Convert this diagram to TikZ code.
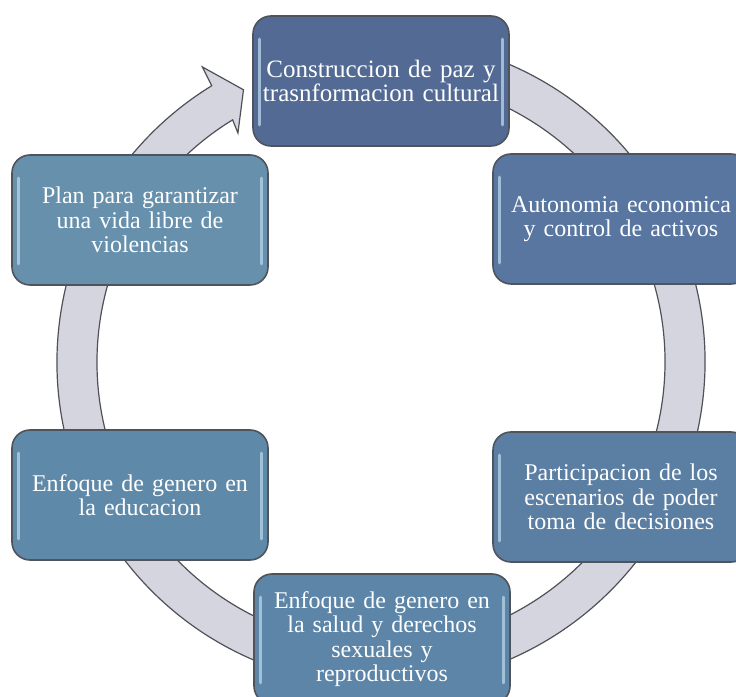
\documentclass[tikz,border=0pt]{standalone}
\usepackage{fontspec}
\setmainfont{Liberation Serif}
\usepackage{tikz}
\usetikzlibrary{positioning, calc}

\definecolor{stageA}{HTML}{536B94}
\definecolor{stageB}{HTML}{5876A0}
\definecolor{stageC}{HTML}{5B7EA3}
\definecolor{stageD}{HTML}{5D85A7}
\definecolor{stageE}{HTML}{5F89A8}
\definecolor{stageF}{HTML}{6690AC}
\definecolor{boxline}{HTML}{4E535C}
\definecolor{ringfill}{HTML}{D4D5DE}
\definecolor{ringline}{HTML}{4F5058}
\definecolor{glosscol}{HTML}{B2D0E6}

\newcommand{\stagefont}{\fontsize{24}{24.5}\selectfont}
\newcommand{\topfont}{\fontsize{25}{24.5}\selectfont}

\tikzset{
    stage/.style={draw=boxline, line width=1.6pt, rounded corners=18pt,
        minimum width=256pt, minimum height=130pt, text width=244pt,
        align=center, text=white, font=\stagefont},
    ring/.style={fill=ringfill, draw=ringline, line width=1.2pt, line join=miter},
    gloss/.style={draw=glosscol, line width=3pt, line cap=round, opacity=0.8}
}

\begin{document}
\begin{tikzpicture}[x=1pt, y=1pt]
\useasboundingbox (0,0) rectangle (736,696);

\coordinate (O) at (381,334);

% the cycle arrow
\begin{scope}[shift={(O)}]
    \path[ring] (80:324) arc[start angle=80, end angle=-238.5, radius=324pt]
        -- (121.2:345) -- (116.8:305) -- (122:270) -- (121.5:284)
        arc[start angle=-238.5, end angle=80, radius=284pt] -- cycle;
\end{scope}

% stages
\node[stage, fill=stageA, font=\topfont] (construccion) at (381,615) {Construccion de paz y\\trasnformacion cultural};
\node[stage, fill=stageB] (autonomia) at (621,477) {Autonomia economica\\y control de activos};
\node[stage, fill=stageC] (participacion) at (621,199) {Participacion de los\\escenarios de poder\\toma de decisiones};
\node[stage, fill=stageD] (salud) at (382,57) {Enfoque de genero en\\la salud y derechos\\sexuales y\\reproductivos};
\node[stage, fill=stageE] (educacion) at (140,201) {Enfoque de genero en\\la educacion};
\node[stage, fill=stageF] (violencias) at (140,476) {Plan para garantizar\\una vida libre de\\violencias};

\foreach \n in {construccion, autonomia, participacion, salud, educacion, violencias} {
    \draw[gloss] ([xshift=7pt, yshift=-24pt]\n.north west) -- ([xshift=7pt, yshift=22pt]\n.south west);
    \draw[gloss] ([xshift=-7pt, yshift=-24pt]\n.north east) -- ([xshift=-7pt, yshift=22pt]\n.south east);
}

\end{tikzpicture}
\end{document}
